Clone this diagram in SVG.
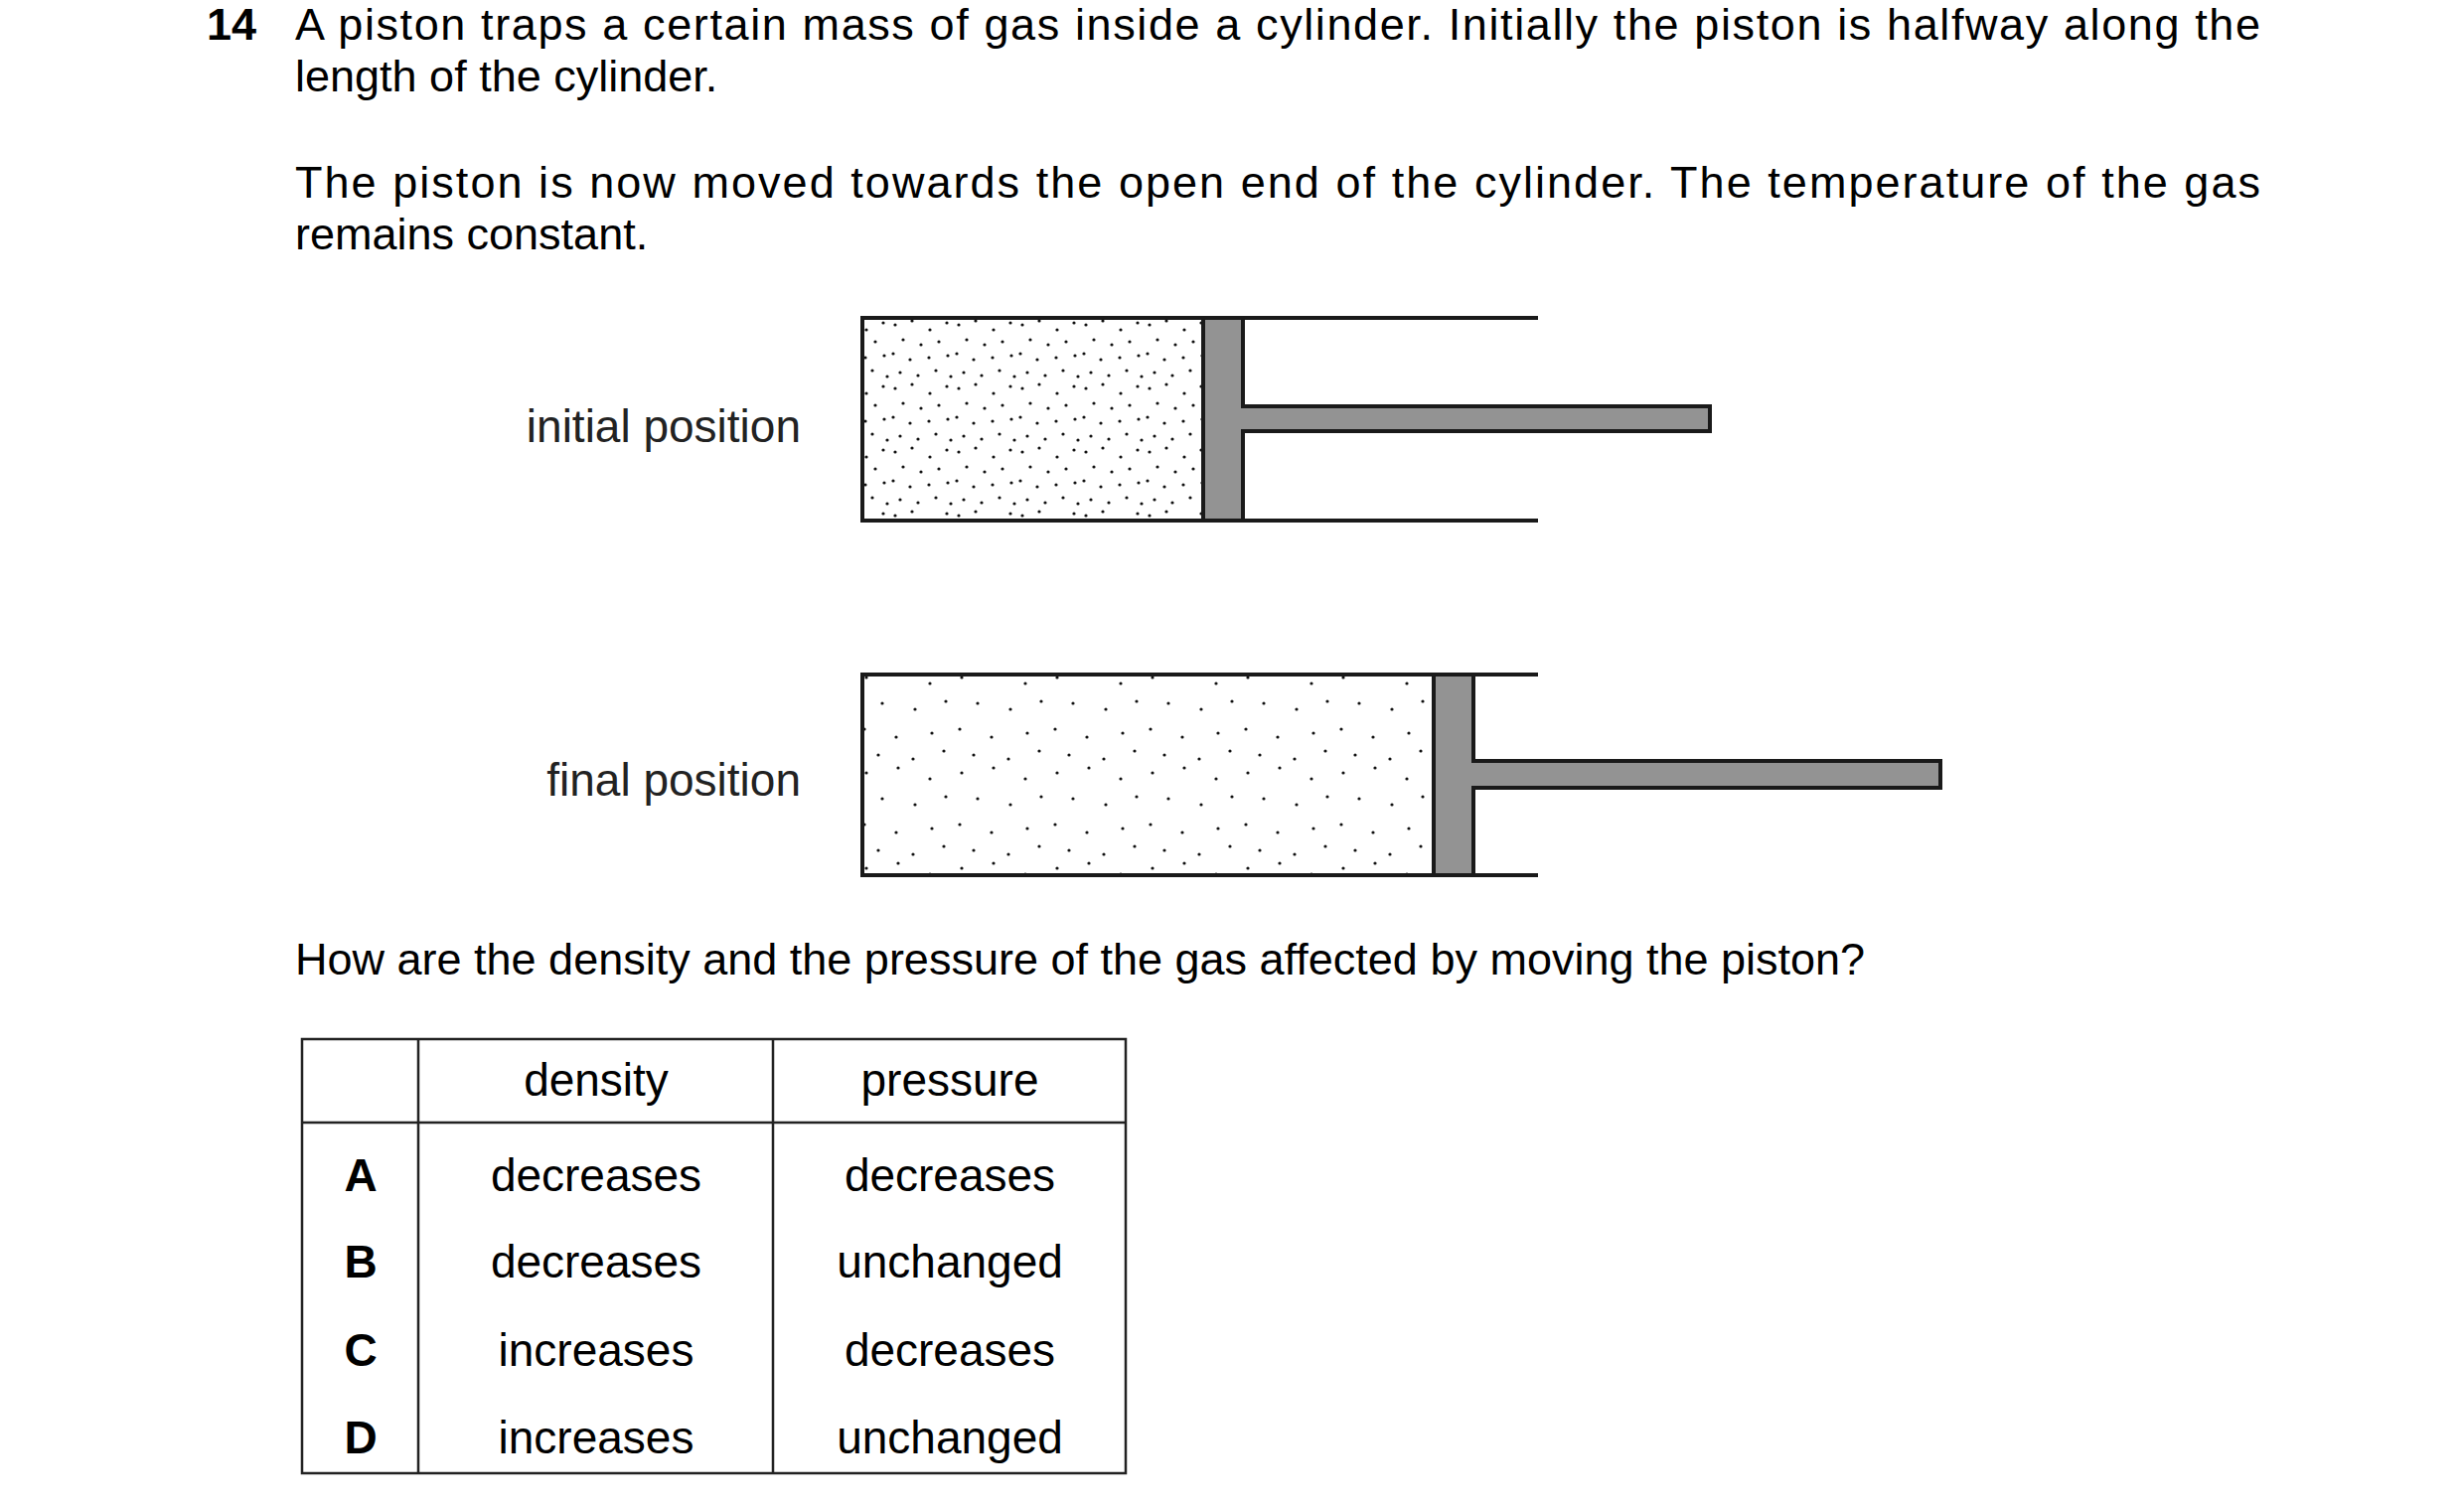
<svg xmlns="http://www.w3.org/2000/svg" width="2480" height="1516" viewBox="0 0 2480 1516">
<style>
text{font-family:"Liberation Sans",Arial,sans-serif;fill:#000}
.t{font-size:45px}
.b{font-weight:bold}
.l{font-size:46px;fill:#222}
.c{text-anchor:middle;font-size:46px}
.w{stroke:#1a1a1a;stroke-width:4;fill:none}
.p{fill:#939393;stroke:#1a1a1a;stroke-width:4}
.g{stroke:#222;stroke-width:2.5}
</style>
<defs>
<pattern id="dense" width="64" height="64" patternUnits="userSpaceOnUse">
<g fill="#111">
<circle cx="5" cy="7" r="1.6"/><circle cx="22" cy="3" r="1.6"/><circle cx="40" cy="12" r="1.6"/><circle cx="57" cy="5" r="1.6"/>
<circle cx="13" cy="22" r="1.6"/><circle cx="31" cy="27" r="1.6"/><circle cx="49" cy="24" r="1.6"/><circle cx="3" cy="36" r="1.6"/>
<circle cx="20" cy="42" r="1.6"/><circle cx="39" cy="40" r="1.6"/><circle cx="58" cy="38" r="1.6"/><circle cx="10" cy="55" r="1.6"/>
<circle cx="28" cy="58" r="1.6"/><circle cx="46" cy="53" r="1.6"/><circle cx="61" cy="59" r="1.6"/>
</g>
</pattern>
<pattern id="sparse" width="96" height="96" patternUnits="userSpaceOnUse">
<g fill="#111">
<circle cx="8" cy="10" r="1.6"/><circle cx="40" cy="5" r="1.6"/><circle cx="72" cy="16" r="1.6"/>
<circle cx="24" cy="36" r="1.6"/><circle cx="57" cy="42" r="1.6"/><circle cx="88" cy="34" r="1.6"/>
<circle cx="6" cy="62" r="1.6"/><circle cx="38" cy="70" r="1.6"/><circle cx="74" cy="66" r="1.6"/>
<circle cx="20" cy="88" r="1.6"/><circle cx="55" cy="92" r="1.6"/><circle cx="86" cy="84" r="1.6"/>
</g>
</pattern>
</defs>
<g id="question">
<text class="t b" x="208" y="40">14</text>
<text class="t" x="297" y="40" textLength="1978" lengthAdjust="spacing">A piston traps a certain mass of gas inside a cylinder. Initially the piston is halfway along the</text>
<text class="t" x="297" y="92">length of the cylinder.</text>
<text class="t" x="297" y="199" textLength="1978" lengthAdjust="spacing">The piston is now moved towards the open end of the cylinder. The temperature of the gas</text>
<text class="t" x="297" y="251">remains constant.</text>
<text class="t" x="297" y="981">How are the density and the pressure of the gas affected by moving the piston?</text>
</g>
<g id="initial">
<text class="l" x="806" y="445" text-anchor="end">initial position</text>
<rect x="868" y="320" width="343" height="204" fill="url(#dense)"/>
<path class="w" d="M1548 320H868V524H1548"/>
<path class="p" d="M1211 320H1251V409H1721V434H1251V524H1211Z"/>
</g>
<g id="final">
<text class="l" x="806" y="801" text-anchor="end">final position</text>
<rect x="868" y="679" width="575" height="202" fill="url(#sparse)"/>
<path class="w" d="M1548 679H868V881H1548"/>
<path class="p" d="M1443 679H1483V766H1953V793H1483V881H1443Z"/>
</g>
<g id="table">
<rect x="304" y="1046" width="829" height="437" fill="none" class="g"/>
<line class="g" x1="304" y1="1130" x2="1133" y2="1130"/>
<line class="g" x1="421" y1="1046" x2="421" y2="1483"/>
<line class="g" x1="778" y1="1046" x2="778" y2="1483"/>
<text class="c" x="600" y="1103">density</text>
<text class="c" x="956" y="1103">pressure</text>
<text class="c b" x="363" y="1199">A</text>
<text class="c b" x="363" y="1286">B</text>
<text class="c b" x="363" y="1375">C</text>
<text class="c b" x="363" y="1463">D</text>
<text class="c" x="600" y="1199">decreases</text>
<text class="c" x="956" y="1199">decreases</text>
<text class="c" x="600" y="1286">decreases</text>
<text class="c" x="956" y="1286">unchanged</text>
<text class="c" x="600" y="1375">increases</text>
<text class="c" x="956" y="1375">decreases</text>
<text class="c" x="600" y="1463">increases</text>
<text class="c" x="956" y="1463">unchanged</text>
</g>
</svg>
